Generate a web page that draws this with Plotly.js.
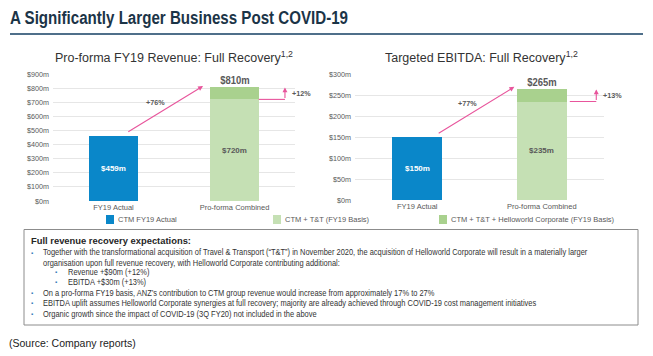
<!DOCTYPE html>
<html>
<head>
<meta charset="utf-8">
<script src="https://cdn.plot.ly/plotly-3.0.1.min.js"></script>
<style>
html,body{margin:0;padding:0;background:#fff;}
#chart{width:653px;height:356px;}
</style>
</head>
<body>
<div id="chart"></div>
<script>
// ---- data ----
const categories = ['FY19 Actual', 'Pro-forma Combined'];
const revenueBase = [459, 720];
const revenueAdd = [null, 90];
const ebitdaBase = [150, 235];
const ebitdaAdd = [null, 30];
const revenueGrowth = ['+76%', '+12%'];
const ebitdaGrowth = ['+77%', '+13%'];
const legendLeft = ['CTM FY19 Actual', 'CTM + T&T (FY19 Basis)'];
const legendRight = ['CTM + T&T + Helloworld Corporate (FY19 Basis)'];
const pageTitle = 'A Significantly Larger Business Post COVID-19';
const boxTitle = 'Full revenue recovery expectations:';
const boxLines = [
  ['Together with the transformational acquisition of Travel & Transport (\u201cT&T\u201d) in November 2020, the acquisition of Helloworld Corporate will result in a materially larger', 1],
  ['organisation upon full revenue recovery, with Helloworld Corporate contributing additional:', 0],
  ['Revenue +$90m (+12%)', 2],
  ['EBITDA +$30m (+13%)', 2],
  ['On a pro-forma FY19 basis, ANZ\u2019s contribution to CTM group revenue would increase from approximately 17% to 27%', 1],
  ['EBITDA uplift assumes Helloworld Corporate synergies at full recovery; majority are already achieved through COVID-19 cost management initiatives', 1],
  ['Organic growth since the impact of COVID-19 (3Q FY20) not included in the above', 1]
];

// ---- styles ----
const W = 653, H = 356;
const BLUE = '#0a87c9', LGREEN = '#c5e0b4', DGREEN = '#a9d18e', PINK = '#e8559c';
const GREY = '#595959';
const SANS = '"Liberation Sans", Arial, sans-serif';
const px = v => v / W;
const py = v => 1 - v / H;
const condense = {};   // text -> horizontal squeeze factor (applied after render)

const traces = [
  {type:'bar', x:categories, y:revenueBase, xaxis:'x', yaxis:'y', marker:{color:[BLUE, LGREEN]}, hoverinfo:'skip', showlegend:false},
  {type:'bar', x:categories, y:revenueAdd, xaxis:'x', yaxis:'y', marker:{color:DGREEN}, hoverinfo:'skip', showlegend:false},
  {type:'bar', x:categories, y:ebitdaBase, xaxis:'x2', yaxis:'y2', marker:{color:[BLUE, LGREEN]}, hoverinfo:'skip', showlegend:false},
  {type:'bar', x:categories, y:ebitdaAdd, xaxis:'x2', yaxis:'y2', marker:{color:DGREEN}, hoverinfo:'skip', showlegend:false}
];

const ann = [];
const shapes = [];

// page title
ann.push({xref:'paper', yref:'paper', x:px(8), y:py(18), xanchor:'left', yanchor:'middle', align:'left', showarrow:false,
  text:pageTitle, font:{family:SANS, size:18, weight:'bold', color:'#1b3447'}});
condense[pageTitle] = 0.84;
shapes.push({type:'line', xref:'paper', yref:'paper', x0:px(10), x1:px(643), y0:py(34), y1:py(34), line:{color:'#4f6f8a', width:2}});

// subplot titles
ann.push({xref:'paper', yref:'paper', x:px(174), y:py(57), xanchor:'center', yanchor:'middle', showarrow:false,
  text:'Pro-forma FY19 Revenue: Full Recovery<sup>1,2</sup>', font:{family:SANS, size:12.5, color:'#333'}});
ann.push({xref:'paper', yref:'paper', x:px(481), y:py(57), xanchor:'center', yanchor:'middle', showarrow:false,
  text:'Targeted EBITDA: Full Recovery<sup>1,2</sup>', font:{family:SANS, size:12.5, color:'#333'}});

function chartAnn(xr, yr, base, add, growth, arrowFrom, arrowTo, pctPos, elbowX, elbowTop) {
  const total = base[1] + add[1];
  ann.push({xref:xr, yref:yr, x:0, y:base[0]/2, showarrow:false, text:'$' + base[0] + 'm',
    font:{family:SANS, size:8, weight:'bold', color:'#fff'}});
  ann.push({xref:xr, yref:yr, x:1, y:base[1]/2, showarrow:false, text:'$' + base[1] + 'm',
    font:{family:SANS, size:8, weight:'bold', color:GREY}});
  const tot = '$' + total + 'm';
  ann.push({xref:xr, yref:yr, x:1, y:total, yshift:7, yanchor:'middle', showarrow:false, text:tot,
    font:{family:SANS, size:11.5, weight:'bold', color:GREY}});
  condense[tot] = 0.82;
  ann.push({xref:xr, yref:yr, axref:xr, ayref:yr, x:arrowTo[0], y:arrowTo[1], ax:arrowFrom[0], ay:arrowFrom[1],
    showarrow:true, arrowhead:2, arrowsize:0.9, arrowwidth:1.1, arrowcolor:PINK, text:''});
  ann.push({xref:xr, yref:yr, x:pctPos[0], y:pctPos[1], showarrow:false, text:growth[0],
    font:{family:SANS, size:7.2, weight:'bold', color:GREY}});
  shapes.push({type:'line', xref:xr, yref:yr, x0:elbowX[0], x1:elbowX[1], y0:base[1], y1:base[1], line:{color:PINK, width:1.1}});
  ann.push({xref:xr, yref:yr, axref:xr, ayref:yr, x:elbowX[1], y:elbowTop, ax:elbowX[1], ay:base[1],
    showarrow:true, arrowhead:2, arrowsize:0.9, arrowwidth:1.1, arrowcolor:PINK, text:''});
  ann.push({xref:xr, yref:yr, x:elbowX[1], y:(base[1] + elbowTop) / 2, xanchor:'left', xshift:5, showarrow:false,
    text:growth[1], font:{family:SANS, size:7.2, weight:'bold', color:GREY}});
}
chartAnn('x', 'y', revenueBase, revenueAdd, revenueGrowth, [0.11, 484], [0.74, 815], [0.35, 701], [1.2, 1.417], 805);
chartAnn('x2', 'y2', ebitdaBase, ebitdaAdd, ebitdaGrowth, [0.16, 157], [0.78, 270], [0.40, 231], [1.225, 1.438], 264);

// legends
function legendItem(x, color, label) {
  shapes.push({type:'rect', xref:'paper', yref:'paper', x0:px(x), x1:px(x + 8), y0:py(215), y1:py(224), fillcolor:color, line:{width:0}});
  ann.push({xref:'paper', yref:'paper', x:px(x + 10), y:py(219.5), xanchor:'left', yanchor:'middle', showarrow:false,
    text:label, font:{family:SANS, size:7.5, color:GREY}});
}
legendItem(106, BLUE, legendLeft[0]);
legendItem(273, LGREEN, legendLeft[1]);
legendItem(439, DGREEN, legendRight[0]);

// text box
shapes.push({type:'rect', xref:'paper', yref:'paper', x0:px(24), x1:px(638), y0:py(229.5), y1:py(325), line:{color:'#8c8c8c', width:1}, fillcolor:'rgba(0,0,0,0)'});
ann.push({xref:'paper', yref:'paper', x:px(29), y:py(240), xanchor:'left', yanchor:'middle', showarrow:false,
  text:boxTitle, font:{family:SANS, size:9.4, weight:'bold', color:'#262626'}});
const lineY = [252.5, 262.5, 272, 282, 293, 303, 313.5];
boxLines.forEach((l, i) => {
  const level = l[1];
  const tx = level === 2 ? 66 : 41;
  if (level > 0) {
    const bx = level === 2 ? 53 : 29;
    ann.push({xref:'paper', yref:'paper', x:px(bx), y:py(lineY[i]), xanchor:'left', yanchor:'middle', showarrow:false,
      text:'\u25aa', font:{family:SANS, size:6, color:'#2e75b6'}});
  }
  // the longest line uses a slightly smaller base size so its unsqueezed box stays on the page
  const size = i === 0 ? 8.2 : 9;
  ann.push({xref:'paper', yref:'paper', x:px(tx), y:py(lineY[i]), xanchor:'left', yanchor:'middle', align:'left', showarrow:false,
    text:l[0], font:{family:SANS, size:size, color:'#333'}});
  condense[l[0]] = 0.83 * 9 / size;
});

// source
ann.push({xref:'paper', yref:'paper', x:px(7), y:py(343), xanchor:'left', yanchor:'middle', showarrow:false,
  text:'(Source: Company reports)', font:{family:SANS, size:10.5, color:'#222'}});

const axX = {type:'category', categoryorder:'array', categoryarray:categories, range:[-0.5, 1.5], showgrid:false,
  zeroline:false, showline:false, ticks:'', tickfont:{family:SANS, size:7.5, color:GREY}, fixedrange:true};
const axY = {showgrid:true, gridcolor:'#e6e6e6', gridwidth:1, zeroline:false, showline:false, ticks:'', ticklabelstandoff:3,
  tickprefix:'$', ticksuffix:'m', tickfont:{family:SANS, size:7.2, color:GREY}, fixedrange:true};

const layout = {
  width:W, height:H, margin:{l:0, r:0, t:0, b:0}, paper_bgcolor:'#fff', plot_bgcolor:'#fff',
  barmode:'stack', bargap:0.6, showlegend:false,
  xaxis:Object.assign({}, axX, {domain:[px(53), px(295)], anchor:'y'}),
  yaxis:Object.assign({}, axY, {domain:[py(201), py(74)], range:[0, 900], dtick:100, anchor:'x'}),
  xaxis2:Object.assign({}, axX, {domain:[px(355), px(604)], anchor:'y2'}),
  yaxis2:Object.assign({}, axY, {domain:[py(200), py(74.3)], range:[0, 300], dtick:50, anchor:'x2'}),
  annotations:ann, shapes:shapes
};
Plotly.newPlot('chart', traces, layout, {displayModeBar:false, staticPlot:true}).then(() => {
  document.querySelectorAll('#chart .annotation-text').forEach(t => {
    const s = condense[t.textContent];
    if (s) {
      const L = t.getComputedTextLength();
      t.setAttribute('textLength', (L * s).toFixed(1));
      t.setAttribute('lengthAdjust', 'spacingAndGlyphs');
    }
  });
});
</script>
</body>
</html>
